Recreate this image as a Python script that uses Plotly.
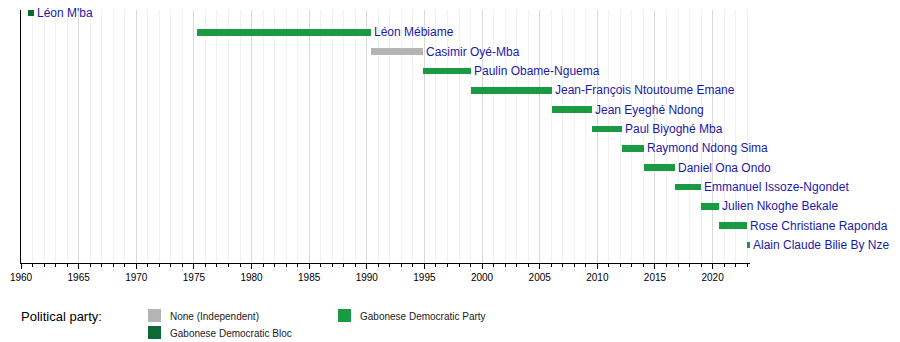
import pandas as pd
import plotly.graph_objects as go

# ---- data ----
names = [
    "Léon M'ba", "Léon Mébiame", "Casimir Oyé-Mba", "Paulin Obame-Nguema",
    "Jean-François Ntoutoume Emane", "Jean Eyeghé Ndong", "Paul Biyoghé Mba",
    "Raymond Ndong Sima", "Daniel Ona Ondo", "Emmanuel Issoze-Ngondet",
    "Julien Nkoghe Bekale", "Rose Christiane Raponda", "Alain Claude Bilie By Nze",
]
starts = [
    "1960-08-17", "1975-04-16", "1990-05-03", "1994-11-02", "1999-01-23",
    "2006-01-20", "2009-07-17", "2012-02-27", "2014-01-24", "2016-09-28",
    "2019-01-12", "2020-07-16", "2023-01-09",
]
ends = [
    "1961-02-21", "1990-05-03", "1994-11-02", "1999-01-23", "2006-01-20",
    "2009-07-17", "2012-02-27", "2014-01-24", "2016-09-28", "2019-01-12",
    "2020-07-16", "2023-01-09", "2023-03-25",
]
parties = [
    "Gabonese Democratic Bloc", "Gabonese Democratic Party", "None (Independent)",
    "Gabonese Democratic Party", "Gabonese Democratic Party", "Gabonese Democratic Party",
    "Gabonese Democratic Party", "Gabonese Democratic Party", "Gabonese Democratic Party",
    "Gabonese Democratic Party", "Gabonese Democratic Party", "Gabonese Democratic Party",
    "Gabonese Democratic Party",
]
party_colors = {
    "None (Independent)": "#b4b4b4",
    "Gabonese Democratic Bloc": "#0b6a36",
    "Gabonese Democratic Party": "#1a9a42",
}
legend_order = ["None (Independent)", "Gabonese Democratic Bloc", "Gabonese Democratic Party"]
axis_start = "1960-01-01"
axis_end = "2023-04-01"

# ---- layout constants (pixels) ----
W, H = 900, 342
ML, MR, MT, MB = 21, 150, 10, 79
PW, PH = W - ML - MR, H - MT - MB

def px_x(px):
    return (px - ML) / PW

def px_y(py):
    return (H - MB - py) / PH

rows = list(range(len(names)))
s_dt = pd.to_datetime(pd.Series(starts))
e_dt = pd.to_datetime(pd.Series(ends))
dur_ms = ((e_dt - s_dt).dt.total_seconds() * 1000).tolist()

fig = go.Figure()
fig.add_trace(go.Bar(
    orientation="h",
    y=rows,
    x=dur_ms,
    base=starts,
    width=0.34,
    marker=dict(color=[party_colors[p] for p in parties], line=dict(width=0)),
    showlegend=False,
    hoverinfo="skip",
))

label_color = "#1a1aa8"
for i, (n, e) in enumerate(zip(names, ends)):
    fig.add_annotation(
        x=e, y=i, xref="x", yref="y", text=n, showarrow=False,
        xanchor="left", yanchor="middle", xshift=1,
        font=dict(family="Liberation Sans, Arial, sans-serif", size=12, color=label_color),
    )

# legend
fig.add_annotation(
    x=px_x(21), y=px_y(316), xref="paper", yref="paper", text="Political party:",
    showarrow=False, xanchor="left", yanchor="middle", xshift=-2,
    font=dict(family="Liberation Sans, Arial, sans-serif", size=13, color="#000000"),
)
legend_pos = {
    "None (Independent)": (148, 309),
    "Gabonese Democratic Bloc": (148, 326),
    "Gabonese Democratic Party": (338, 309),
}
for p in legend_order:
    lx, ly = legend_pos[p]
    fig.add_shape(
        type="rect", xref="paper", yref="paper",
        x0=px_x(lx), x1=px_x(lx + 13), y0=px_y(ly), y1=px_y(ly + 13),
        fillcolor=party_colors[p], line=dict(width=0),
    )
    fig.add_annotation(
        x=px_x(lx + 22), y=px_y(ly + 7.5), xref="paper", yref="paper", text=p,
        showarrow=False, xanchor="left", yanchor="middle", xshift=-2,
        font=dict(family="Liberation Sans, Arial, sans-serif", size=10, color="#222222"),
    )

fig.update_layout(
    width=W, height=H,
    margin=dict(l=ML, r=MR, t=MT, b=MB, pad=0),
    paper_bgcolor="white", plot_bgcolor="white",
    bargap=0,
    font=dict(family="Liberation Sans, Arial, sans-serif", size=10, color="#000000"),
    xaxis=dict(
        type="date", range=[axis_start, axis_end],
        tick0="1960-01-01", dtick="M60", tickformat="%Y",
        ticks="outside", ticklen=5, tickcolor="#000000", tickwidth=1,
        showline=True, linecolor="#000000", linewidth=1,
        showgrid=True, gridcolor="#d9d9d9", gridwidth=1,
        minor=dict(dtick="M12", tick0="1960-01-01", showgrid=True, gridcolor="#f0f0f0",
                   ticks="outside", ticklen=3, tickcolor="#000000"),
        tickfont=dict(size=10, color="#000000"),
        zeroline=False, fixedrange=True,
    ),
    yaxis=dict(
        range=[12.931, -0.155], showticklabels=False, ticks="",
        showgrid=False, zeroline=False,
        showline=True, linecolor="#000000", linewidth=1,
    ),
)

fig.write_html("out.html")
